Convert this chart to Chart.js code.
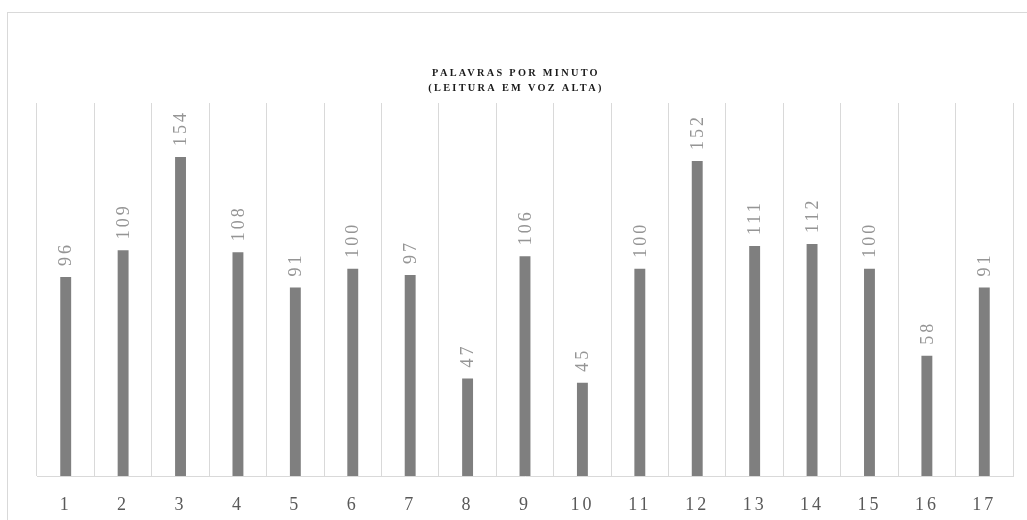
<!DOCTYPE html>
<html>
<head>
<meta charset="utf-8">
<script src="https://cdn.jsdelivr.net/npm/chart.js@4.4.1/dist/chart.umd.min.js"></script>
<style>
  html, body { margin: 0; padding: 0; background: #ffffff; }
  #wrap { width: 1027px; height: 520px; position: relative; }
</style>
</head>
<body>
<div id="wrap"><canvas id="c" width="1027" height="520"></canvas></div>
<script>
const categories = ['1','2','3','4','5','6','7','8','9','10','11','12','13','14','15','16','17'];
const values = [96, 109, 154, 108, 91, 100, 97, 47, 106, 45, 100, 152, 111, 112, 100, 58, 91];
const titleLines = ['PALAVRAS POR MINUTO', '(LEITURA EM VOZ ALTA)'];
const yMin = 0;
const yMax = 180;

const decorPlugin = {
  id: 'decor',
  beforeDraw(chart) {
    const ctx = chart.ctx;
    ctx.save();
    ctx.fillStyle = '#ffffff';
    ctx.fillRect(0, 0, chart.width, chart.height);
    ctx.strokeStyle = '#d9d9d9';
    ctx.lineWidth = 1;
    ctx.strokeRect(7.5, 12.5, 1200, 700);
    ctx.restore();
    ctx.letterSpacing = '3px';
  },
  afterDatasetsDraw(chart) {
    const ctx = chart.ctx;
    const meta = chart.getDatasetMeta(0);
    ctx.save();
    ctx.letterSpacing = '3px';
    ctx.fillStyle = '#959595';
    ctx.font = '18px "Liberation Serif", "Times New Roman", serif';
    ctx.textAlign = 'left';
    ctx.textBaseline = 'middle';
    meta.data.forEach((bar, i) => {
      ctx.save();
      ctx.translate(bar.x + 1, bar.y - 11);
      ctx.rotate(-Math.PI / 2);
      ctx.fillText(String(values[i]), 0, 0);
      ctx.restore();
    });
    ctx.restore();
  },
  afterDraw(chart) {
    const ctx = chart.ctx;
    ctx.save();
    ctx.letterSpacing = '2.3px';
    ctx.fillStyle = '#1a1a1a';
    ctx.font = 'bold 10.3px "Liberation Serif", "Times New Roman", serif';
    ctx.textAlign = 'center';
    ctx.textBaseline = 'middle';
    const cx = 516;
    ctx.fillText(titleLines[0], cx, 73);
    ctx.fillText(titleLines[1], cx, 88);
    ctx.restore();
  }
};

new Chart(document.getElementById('c'), {
  type: 'bar',
  data: {
    labels: categories,
    datasets: [{
      data: values,
      backgroundColor: '#7f7f7f',
      borderWidth: 0,
      categoryPercentage: 1.0,
      barPercentage: 0.19
    }]
  },
  options: {
    responsive: false,
    animation: false,
    devicePixelRatio: 1,
    layout: { padding: { left: 37, right: 14, top: 103, bottom: 0 } },
    plugins: {
      legend: { display: false },
      title: { display: false },
      tooltip: { enabled: false }
    },
    scales: {
      x: {
        grid: { offset: true, color: '#d9d9d9', lineWidth: 1, drawTicks: false },
        border: { color: '#d9d9d9', width: 1 },
        ticks: {
          color: '#595959',
          padding: 18,
          font: { family: '"Liberation Serif", "Times New Roman", serif', size: 18 }
        },
        afterFit(scale) { scale.height = 44; }
      },
      y: {
        display: false,
        min: yMin,
        max: yMax
      }
    }
  },
  plugins: [decorPlugin]
});
</script>
</body>
</html>
